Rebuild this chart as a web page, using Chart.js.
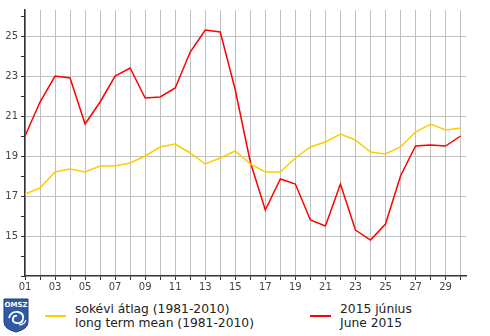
<!DOCTYPE html>
<html>
<head>
<meta charset="utf-8">
<script src="https://cdn.jsdelivr.net/npm/chart.js@4/dist/chart.umd.min.js"></script>
<style>
  html, body { margin: 0; padding: 0; background: #fff; }
  #wrap { position: relative; width: 490px; height: 336px; overflow: hidden; }
  #chartBox { position: absolute; left: 0; top: 0; width: 490px; height: 296px; }
  .legend-text { position: absolute; font-family: "DejaVu Sans", sans-serif; font-size: 12.3px; line-height: 14px; color: #222; white-space: nowrap; }
  .legend-line { position: absolute; height: 2px; width: 21px; }
  #logo { position: absolute; left: 3px; top: 298px; }
</style>
</head>
<body>
<div id="wrap">
  <div id="chartBox"><canvas id="chart"></canvas></div>

  <svg id="logo" width="26" height="35" viewBox="0 0 26 35">
    <path d="M1 1 H25 V24 Q25 31 13 34 Q1 31 1 24 Z" fill="#2e5aa8" stroke="#1c3d7a" stroke-width="1"/>
    <text x="13" y="9" text-anchor="middle" font-family="DejaVu Sans, sans-serif" font-size="7" font-weight="bold" fill="#fff">OMSZ</text>
    <path d="M6 20 Q8 13 15 14 Q21 15 20 21 Q19 26 13 25 Q9 24 10 20 Q11 17 14 18" fill="none" stroke="#fff" stroke-width="1.8"/>
    <path d="M16 27 Q21 27 23 22" fill="none" stroke="#fff" stroke-width="1.2"/>
  </svg>

  <div class="legend-line" style="left:45px; top:315px; background:#ffcc00;"></div>
  <div class="legend-text" style="left:75px; top:302px;">sokévi átlag (1981-2010)<br>long term mean (1981-2010)</div>

  <div class="legend-line" style="left:310px; top:315px; background:#ff0000;"></div>
  <div class="legend-text" style="left:340px; top:302px;">2015 június<br>June 2015</div>
</div>

<script>
// napok (days of June)
const days = Array.from({ length: 30 }, (_, i) => i + 1);

// sokévi átlag (1981-2010), daily mean temperature °C
const longTermMean = [
  17.1, 17.4, 18.2, 18.35, 18.2, 18.5, 18.5, 18.65, 19.0, 19.45,
  19.6, 19.15, 18.6, 18.9, 19.25, 18.6, 18.2, 18.2, 18.9, 19.45,
  19.7, 20.1, 19.8, 19.2, 19.1, 19.45, 20.2, 20.6, 20.3, 20.4
];

// 2015 június, daily mean temperature °C
const june2015 = [
  20.0, 21.7, 23.0, 22.9, 20.6, 21.7, 23.0, 23.4, 21.9, 21.95,
  22.4, 24.2, 25.3, 25.2, 22.3, 18.7, 16.3, 17.85, 17.6, 15.8,
  15.5, 17.6, 15.3, 14.8, 15.6, 18.0, 19.5, 19.55, 19.5, 20.0
];

// y ticks every degree, labels only on odd ones (13 is left blank)
const yTicks = [13, 14, 15, 16, 17, 18, 19, 20, 21, 22, 23, 24, 25, 26];
const yLabels = [15, 17, 19, 21, 23, 25];

const GRID = '#c0c0c0';
const AXIS = '#333333';
const LABEL = '#444444';
const tickFont = { family: 'DejaVu Sans', size: 10 };

const toPoints = (vals) => vals.map((v, i) => ({ x: days[i], y: v }));

new Chart(document.getElementById('chart'), {
  type: 'line',
  data: {
    datasets: [
      {
        label: 'sokévi átlag (1981-2010)',
        data: toPoints(longTermMean),
        borderColor: '#ffcc00',
        borderWidth: 1.5,
        pointRadius: 0,
        tension: 0
      },
      {
        label: '2015 június',
        data: toPoints(june2015),
        borderColor: '#ff0000',
        borderWidth: 1.5,
        pointRadius: 0,
        tension: 0
      }
    ]
  },
  options: {
    responsive: true,
    maintainAspectRatio: false,
    animation: false,
    layout: { padding: { top: 10, right: 24, left: 0, bottom: 0 } },
    plugins: { legend: { display: false }, tooltip: { enabled: false } },
    scales: {
      x: {
        type: 'linear',
        min: 1,
        max: 30.36,
        afterBuildTicks: (scale) => {
          scale.ticks = days.map(d => ({ value: d }));
        },
        afterFit: (scale) => { scale.height = 20; },
        ticks: {
          autoSkip: false,
          maxRotation: 0,
          color: LABEL,
          font: tickFont,
          padding: 1,
          callback: (v) => (v % 2 === 1 ? String(v).padStart(2, '0') : '')
        },
        grid: { color: GRID, lineWidth: 1, tickColor: AXIS, tickLength: 4, drawOnChartArea: true },
        border: { color: AXIS, width: 1.5 }
      },
      y: {
        type: 'linear',
        min: 13,
        max: 26.3,
        afterBuildTicks: (scale) => {
          scale.ticks = yTicks.map(v => ({ value: v }));
        },
        afterFit: (scale) => { scale.width = 25; },
        ticks: {
          autoSkip: false,
          color: LABEL,
          font: tickFont,
          padding: 3,
          callback: (v) => (yLabels.includes(v) ? String(v) : '')
        },
        grid: {
          color: (ctx) => (ctx.tick && yLabels.includes(ctx.tick.value) ? GRID : 'rgba(0,0,0,0)'),
          lineWidth: 1,
          tickColor: AXIS,
          tickLength: 4
        },
        border: { color: AXIS, width: 1.5 }
      }
    }
  }
});
</script>
</body>
</html>
